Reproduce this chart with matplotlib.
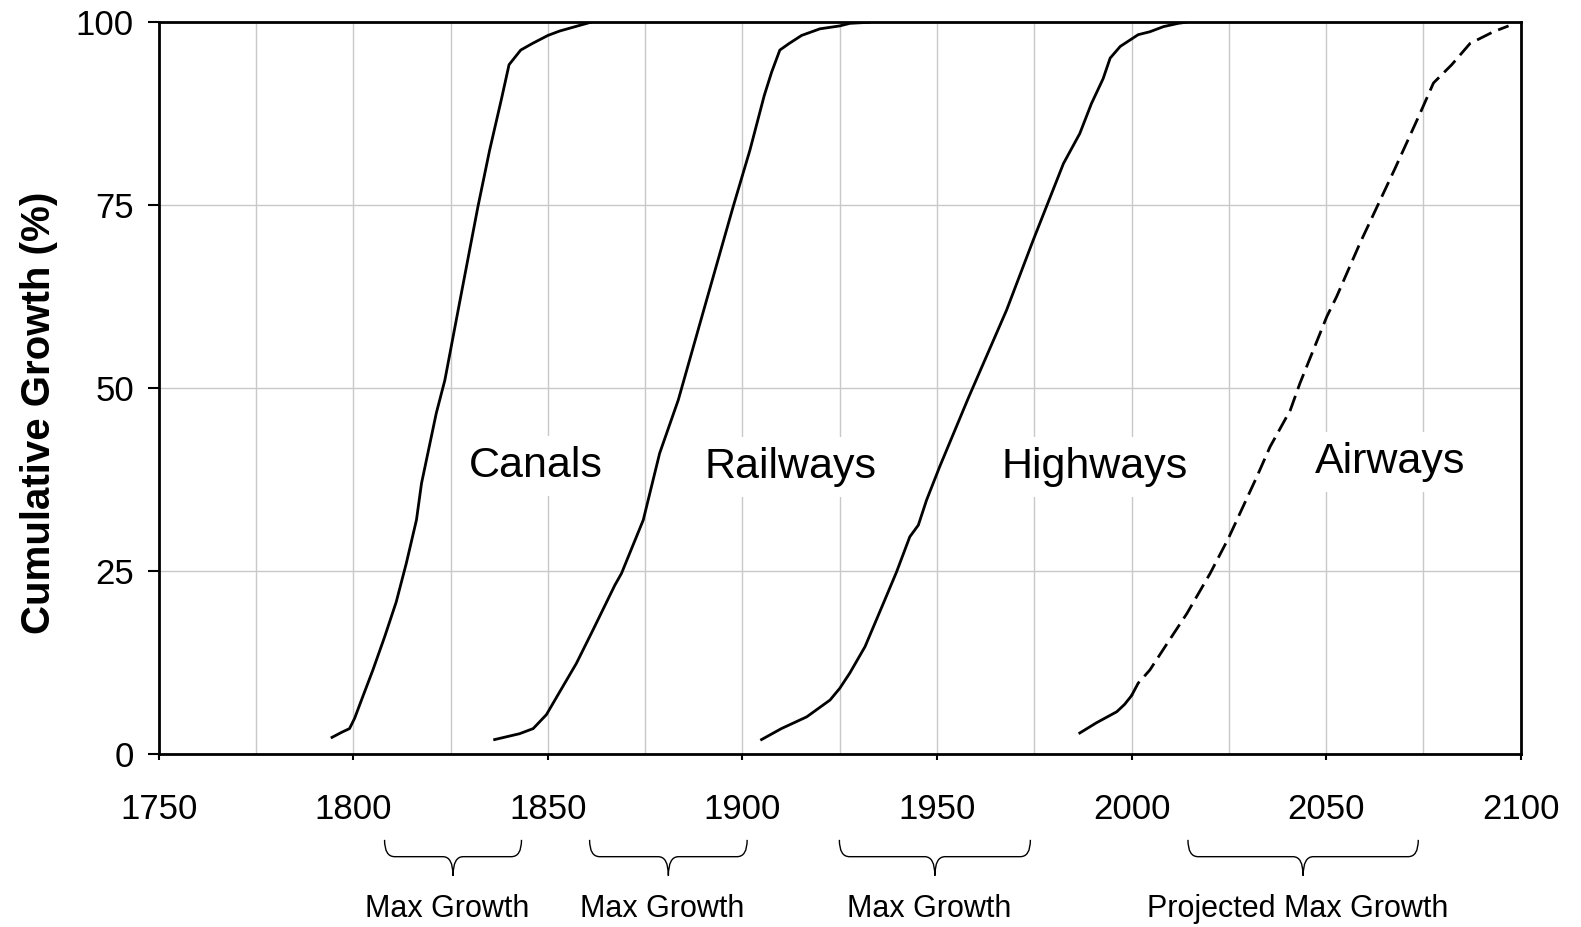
import matplotlib
matplotlib.use("Agg")
import matplotlib.pyplot as plt
from matplotlib.path import Path
from matplotlib.patches import PathPatch
from matplotlib.transforms import blended_transform_factory

matplotlib.rc("font", family=["Liberation Sans", "DejaVu Sans"])

# cumulative growth (%)
canal_years = [1794.5, 1797, 1799, 1800.3, 1802.5, 1805, 1808, 1811, 1813.6,
               1816.2, 1817.5, 1821.3, 1823.5, 1827, 1832, 1835, 1838, 1840,
               1843, 1846, 1850, 1853, 1857, 1861]
canal_pct = [2.3, 3.0, 3.5, 4.9, 8.0, 11.5, 16.0, 20.8, 26.1, 32.0, 37.0, 46.6,
             51.1, 60.9, 74.8, 82.5, 89.4, 94.2, 96.2, 97.1, 98.2, 98.8, 99.4,
             100]

rail_years = [1836.3, 1842.7, 1846.2, 1849.6, 1853, 1857.3, 1861.6, 1867.2,
              1868.9, 1874.5, 1878.7, 1883.5, 1890, 1897.6, 1901.9, 1905.6,
              1907.5, 1909.6, 1912, 1915.2, 1919.9, 1925, 1927.6, 1932.7]
rail_pct = [2.0, 2.8, 3.5, 5.4, 8.5, 12.4, 17.0, 23.1, 24.7, 32.0, 41.1, 48.4,
            60.6, 74.8, 82.5, 90.0, 93.2, 96.2, 97.1, 98.2, 99.1, 99.5, 99.85,
            100]

hwy_years = [1904.9, 1910.0, 1916.5, 1922.5, 1925.0, 1927.6, 1931.5, 1936.2,
             1939.6, 1943.0, 1945.2, 1947.3, 1950.7, 1958.0, 1967.9, 1974.7,
             1982.5, 1986.7, 1989.7, 1992.7, 1994.5, 1997.1, 2001.7, 2004.7,
             2008.2, 2012.0, 2014]
hwy_pct = [2.0, 3.5, 5.1, 7.4, 9.0, 11.1, 14.7, 20.6, 24.9, 29.7, 31.3, 34.7,
           39.3, 48.6, 60.7, 70.2, 80.7, 84.8, 88.9, 92.3, 95.1, 96.7, 98.3,
           98.7, 99.4, 99.85, 100]

air_years = [1986.7, 1991, 1996.2, 1998.2, 2000]
air_pct = [2.9, 4.3, 5.8, 6.8, 8.0]

# projected part of airways (dashed)
proj_years = [2000, 2001.7, 2004.7, 2009, 2014.2, 2020.2, 2024.9, 2032.2,
              2035.6, 2040.8, 2043.3, 2050.2, 2052.7, 2058.7, 2064.7, 2067.7,
              2074.2, 2077.6, 2082.3, 2087, 2093, 2096.9]
proj_pct = [8.0, 9.7, 11.5, 15.0, 19.2, 24.7, 29.5, 37.9, 42.0, 47.0, 50.7,
            59.8, 62.5, 69.8, 76.6, 80.0, 87.6, 91.7, 94.2, 97.1, 98.7, 99.5]

curve_names = ["Canals", "Railways", "Highways", "Airways"]
name_x = [1847.0, 1912.4, 1990.5, 2066.4]
name_y = [37.9, 37.7, 37.7, 38.4]

brace_spans = [(1808.0, 1843.2), (1860.7, 1901.2), (1924.9, 1974.0),
               (2014.5, 2073.7)]
brace_labels = ["Max Growth", "Max Growth", "Max Growth",
                "Projected Max Growth"]


def draw_brace(ax, x0, x1, label):
    trans = blended_transform_factory(ax.transData, ax.transAxes)
    top, mid, tip = -0.117, -0.140, -0.166
    r = 2.6
    xc = (x0 + x1) / 2
    verts = [(x0, top), (x0, mid), (x0 + r, mid),
             (xc - r, mid), (xc, mid), (xc, tip),
             (xc, mid), (xc + r, mid),
             (x1 - r, mid), (x1, mid), (x1, top)]
    codes = [Path.MOVETO, Path.CURVE3, Path.CURVE3,
             Path.LINETO, Path.CURVE3, Path.CURVE3,
             Path.CURVE3, Path.CURVE3,
             Path.LINETO, Path.CURVE3, Path.CURVE3]
    patch = PathPatch(Path(verts, codes), transform=trans, fill=False,
                      lw=1.0, color="black", clip_on=False)
    ax.add_patch(patch)
    ax.text(xc - 1.5, -0.211, label, transform=trans, ha="center",
            va="center", fontsize=22)


fig = plt.figure(figsize=(15.81, 9.27), dpi=100)
ax = fig.add_axes([0.1005, 0.1864, 0.8613, 0.7896])

ax.plot(canal_years, canal_pct, color="black", lw=2.0, zorder=4)
ax.plot(rail_years, rail_pct, color="black", lw=2.0, zorder=4)
ax.plot(hwy_years, hwy_pct, color="black", lw=2.0, zorder=4)
ax.plot(air_years, air_pct, color="black", lw=2.0, zorder=4)
ax.plot(proj_years, proj_pct, color="black", lw=2.0, ls=(0, (5.8, 2.6)),
        zorder=4)

for name, x, y in zip(curve_names, name_x, name_y):
    ax.text(x, y, name, ha="center", va="baseline", fontsize=31, zorder=3,
            bbox=dict(facecolor="white", edgecolor="none", pad=7))

for (x0, x1), label in zip(brace_spans, brace_labels):
    draw_brace(ax, x0, x1, label)

ax.set_xlim(1750, 2100)
ax.set_ylim(0, 100)
ax.set_xticks(range(1750, 2101, 50))
ax.set_xticks(range(1775, 2100, 50), minor=True)
ax.set_yticks([0, 25, 50, 75, 100])
ax.grid(which="both", color="#c8c8c8", lw=1.0, zorder=0)
ax.set_axisbelow(True)

ax.tick_params(axis="x", which="major", length=4, width=1.5, pad=24,
               labelsize=25, direction="out")
ax.tick_params(axis="x", which="minor", length=0)
ax.tick_params(axis="y", length=8, width=1.5, pad=10, labelsize=25,
               direction="out")
for spine in ax.spines.values():
    spine.set_linewidth(2.0)
    spine.set_zorder(10)

ax.set_ylabel("Cumulative Growth (%)", fontsize=29, fontweight="bold")
ax.yaxis.set_label_coords(-0.074, 0.466)

plt.savefig("out.png", dpi=100)
